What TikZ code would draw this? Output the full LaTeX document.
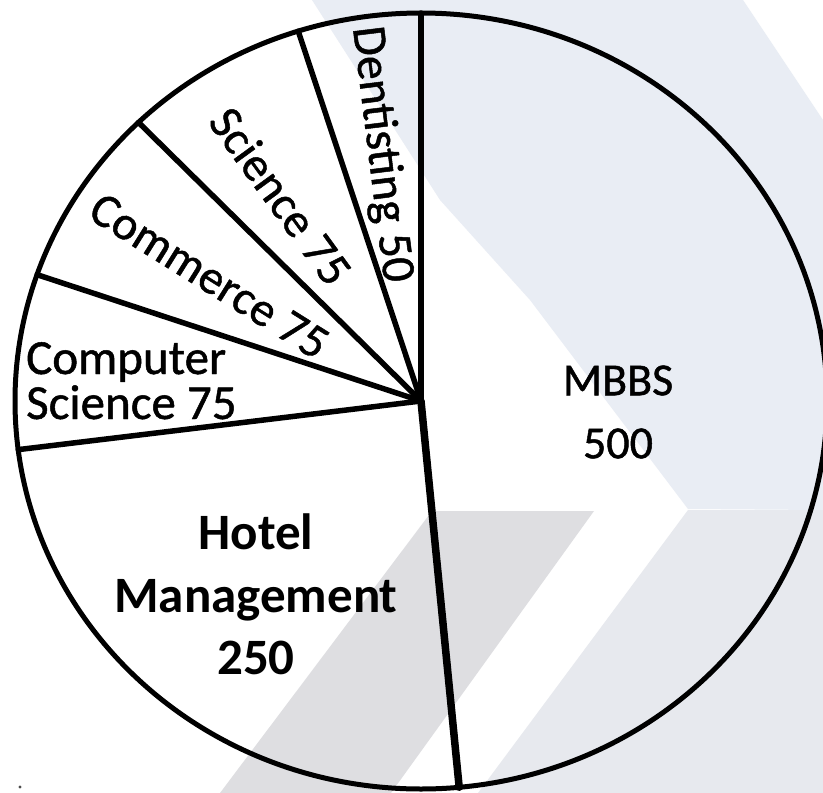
\documentclass[tikz,border=0pt]{standalone}
\usepackage{fontspec}
\setmainfont{Carlito}
\newfontfamily\lblfont[FakeBold=1]{Carlito}
\definecolor{bandblue}{HTML}{E9EDF4}
\definecolor{bandgrey}{HTML}{E7E9EE}
\definecolor{banddark}{HTML}{DEDEE1}
\begin{document}
\begin{tikzpicture}[x=1pt,y=-1pt,
  spoke/.style={line width=5.5pt, line cap=round, line join=round},
  rim/.style={line width=5pt},
  lbl/.style={inner sep=0pt, font=\lblfont\fontsize{48}{48}\selectfont},
]
\useasboundingbox (0,0) rectangle (823,793);
\fill[white] (0,0) rectangle (823,793);
% faint watermark chevrons in the background
\fill[bandblue] (312,0) -- (743,0) -- (823,120) -- (823,510) -- (688,509) -- (530,300) -- (440,200) -- cycle;
\fill[bandgrey] (688,510) -- (823,510) -- (823,793) -- (478,793) -- cycle;
\fill[banddark] (432,511) -- (594,511) -- (391,793) -- (220,793) -- cycle;
\fill[black!70] (20,787) circle[radius=1.6pt];

% pie geometry
\coordinate (c) at (421,401);
\path (c) ++(-90:406 and 388) coordinate (p0);
\path (c) ++(-107.6:406 and 388) coordinate (p1);
\path (c) ++(-134.1:406 and 388) coordinate (p2);
\path (c) ++(-161.0:406 and 388) coordinate (p3);
\path (c) ++(-187.2:406 and 388) coordinate (p4);
\path (c) ++(-275.4:406 and 388) coordinate (p5);

\draw[rim] (c) ellipse [x radius=406pt, y radius=388pt];
\draw[spoke] (c) -- (p0);
\draw[spoke] (c) -- (p1);
\draw[spoke] (c) -- (p2);
\draw[spoke] (c) -- (p3);
\draw[spoke] (c) -- (p4);
\draw[spoke, line width=7.5pt] (c) -- (p5);

% labels
\node[lbl, rotate=-83, anchor=base west] (dent) at (353,28) {Dentisting 50};
\node[lbl, rotate=-54, anchor=base west] (sci) at (207,122) {Science 75};
\node[lbl, rotate=-32, anchor=base west] (com) at (86,217) {Commerce 75};
\node[lbl, font=\lblfont\fontsize{49}{45}\selectfont, align=left, anchor=north west] (cs) at (26,342) {Computer\\Science 75};
\node[lbl, font=\lblfont\fontsize{46}{63}\selectfont, align=center] (mbbs) at (618,412) {MBBS\\500};
\node[inner sep=0pt, font=\bfseries\fontsize{51}{62.5}\selectfont, align=center] (hotel) at (256,594.5) {Hotel\\Management\\250};
\end{tikzpicture}
\end{document}
